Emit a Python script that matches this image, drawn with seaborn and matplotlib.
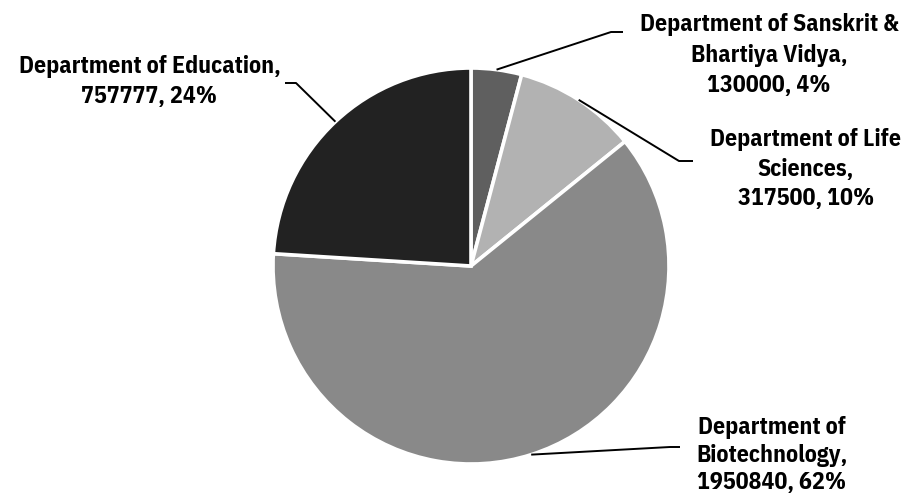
import numpy as np
import matplotlib
matplotlib.use("Agg")
import matplotlib.pyplot as plt
import seaborn as sns
from matplotlib import font_manager
from matplotlib.font_manager import FontProperties
from matplotlib.textpath import TextPath

categories = ["Department of Sanskrit &\nBhartiya Vidya", "Department of Life\nSciences",
              "Department of\nBiotechnology", "Department of Education"]
values = [130000, 317500, 1950840, 757777]
percent_labels = ["4%", "10%", "62%", "24%"]
colors = ["#5f5f5f", "#b2b2b2", "#898989", "#222222"]

sns.set_theme(style="white")

# ---- choose a narrow bold sans similar to Arial Narrow Bold ----
candidates = ["Arial Narrow", "Liberation Sans Narrow", "Archivo Narrow", "Roboto Condensed",
              "Pragati Narrow", "PT Sans Narrow", "Open Sans Condensed",
              "IBM Plex Sans Condensed", "Liberation Sans"]
bold_names = {f.name for f in font_manager.fontManager.ttflist if f.weight in (700, "bold", 600)}
all_names = {f.name for f in font_manager.fontManager.ttflist}
CAP_PX = 16.7          # target cap height (px)
TARGET_W = 262.0       # target width of "Department of Education," (px)
best = None
for fam in candidates:
    if fam not in all_names:
        continue
    fp = FontProperties(family=fam, weight="bold")
    try:
        cap = TextPath((0, 0), "H", size=100, prop=fp).get_extents().height / 100
        wid = TextPath((0, 0), "Department of Education,", size=100, prop=fp).get_extents().width / 100
    except Exception:
        continue
    size_px = CAP_PX / cap
    err = abs(wid * size_px - TARGET_W) / TARGET_W
    if fam not in bold_names:
        err += 0.5
    if best is None or err < best[0] - 0.03:
        best = (err, fam, size_px)
fam = best[1] if best else "DejaVu Sans"
size_px = best[2] if best else 22
plt.rcParams["font.family"] = [fam, "DejaVu Sans"]
fs_pt = size_px * 72 / 100

W, H = 904, 499
fig = plt.figure(figsize=(W / 100, H / 100), dpi=100)
ax = fig.add_axes([0, 0, 1, 1])

def Y(p):
    return H - p

cx, cy, r = 471, Y(266), 198
ax.pie(values, colors=colors, startangle=90, counterclock=False,
       center=(cx, cy), radius=r, frame=True,
       wedgeprops=dict(edgecolor="white", linewidth=2.6))
ax.set_xlim(0, W)
ax.set_ylim(0, H)
ax.set_aspect("equal")
ax.axis("off")

total = sum(values)
cum = np.cumsum(values)
# layout: elbow, line end, text center x, first-line cap-center y, line pitch
layout = [
    ((611, 32), (623, 32), 769, 23, 30.5),
    ((679, 161), (693, 161), 806, 138, 29.5),
    ((670, 447), (680, 447), 772, 426, 27.5),
    ((296, 83), (285, 83), 149.5, 65, 30.0),
]
for i, (cat, v, pl) in enumerate(zip(categories, values, percent_labels)):
    mid = np.deg2rad(360 * (cum[i] - v / 2) / total)
    ax_pt = (cx + r * np.sin(mid), cy + r * np.cos(mid))
    (ex, ey), (lx, ly), tx, ty, pitch = layout[i]
    ax.plot([ax_pt[0], ex, lx], [ax_pt[1], Y(ey), Y(ly)], color="black", lw=1.4,
            solid_capstyle="butt")
    lines = f"{cat},\n{v}, {pl}".split("\n")
    for k, line in enumerate(lines):
        base = ty + k * pitch + CAP_PX / 2
        ax.text(tx, Y(base), line, ha="center", va="baseline", fontsize=fs_pt,
                fontweight="bold", color="black")

fig.savefig("out.png", dpi=100)
